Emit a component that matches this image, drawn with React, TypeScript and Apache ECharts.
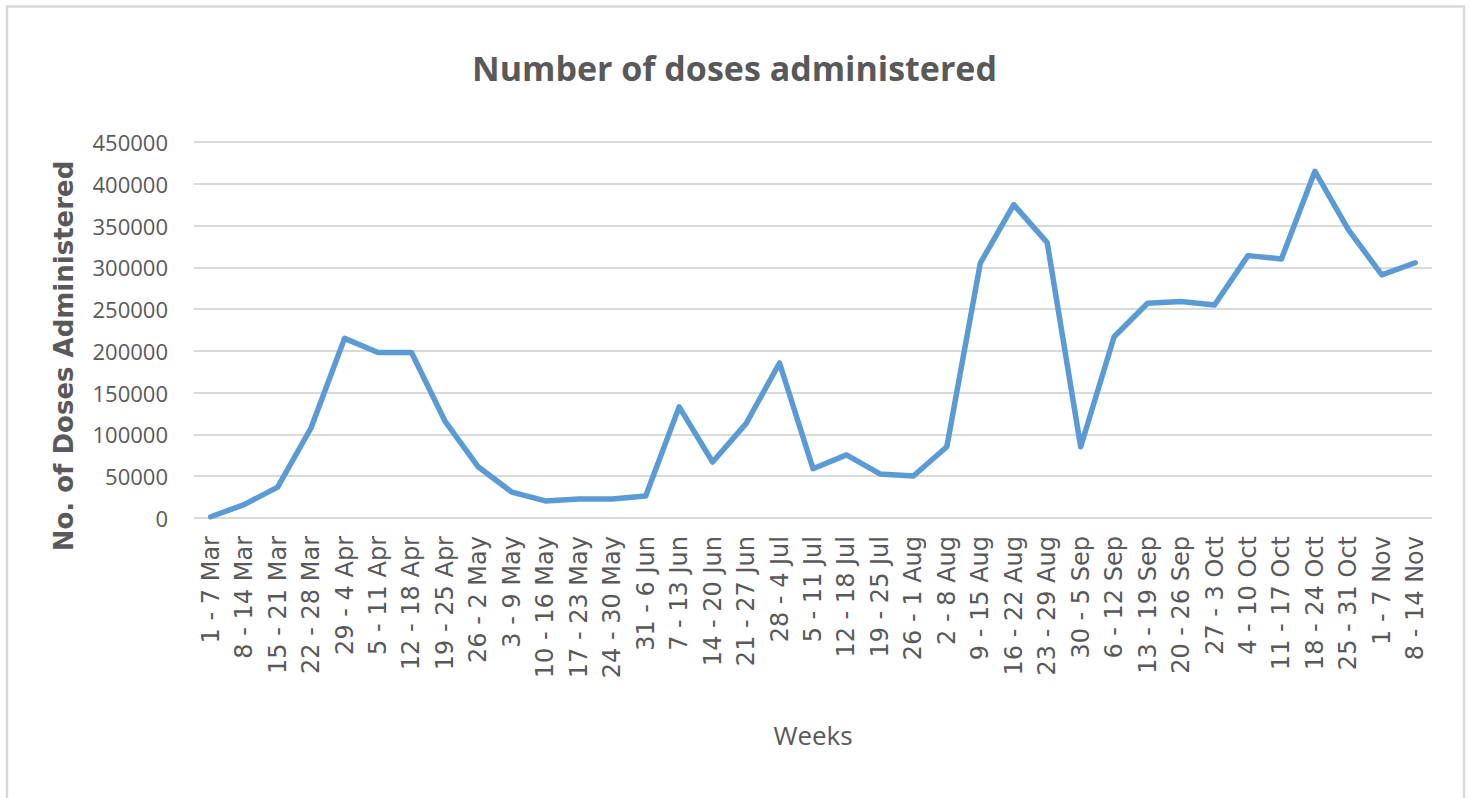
import React, { useEffect, useRef } from "react";
import * as echarts from "echarts";

const weeks: string[] = [
  "1 - 7 Mar", "8 - 14 Mar", "15 - 21 Mar", "22 - 28 Mar", "29 - 4 Apr", "5 - 11 Apr",
  "12 - 18 Apr", "19 - 25 Apr", "26 - 2 May", "3 - 9 May", "10 - 16 May", "17 - 23 May",
  "24 - 30 May", "31 - 6 Jun", "7 - 13 Jun", "14 - 20 Jun", "21 - 27 Jun", "28 - 4 Jul",
  "5 - 11 Jul", "12 - 18 Jul", "19 - 25 Jul", "26 - 1 Aug", "2 - 8 Aug", "9 - 15 Aug",
  "16 - 22 Aug", "23 - 29 Aug", "30 - 5 Sep", "6 - 12 Sep", "13 - 19 Sep", "20 - 26 Sep",
  "27 - 3 Oct", "4 - 10 Oct", "11 - 17 Oct", "18 - 24 Oct", "25 - 31 Oct", "1 - 7 Nov",
  "8 - 14 Nov",
];

const doses: number[] = [
  1500, 16000, 37000, 108000, 215000, 198000,
  198000, 116000, 61000, 31000, 20400, 22600,
  22800, 26400, 133000, 67000, 113000, 185500,
  59000, 75500, 52800, 50200, 85300, 305000,
  375000, 329500, 85300, 217000, 257000, 259000,
  255000, 314000, 310000, 415000, 345000, 291000,
  305500,
];

const title = "Number of doses administered";
const yTitle = "No. of Doses Administered";
const xTitle = "Weeks";
const yMin = 0;
const yMax = 450000;
const yStep = 50000;

export default function App() {
  const ref = useRef<HTMLDivElement>(null);
  useEffect(() => {
    document.body.style.margin = "0";
    if (!ref.current) return;
    const chart = echarts.init(ref.current, null, { renderer: "svg" });
    const grey = "#595959";
    chart.setOption({
      animation: false,
      backgroundColor: "#ffffff",
      title: {
        text: title,
        left: "center",
        top: 46,
        textStyle: {
          fontFamily: "Open Sans",
          fontWeight: "bold",
          fontSize: 34,
          color: grey,
        },
      },
      graphic: [
        {
          type: "rect",
          shape: { x: 7, y: 6.5, width: 1457, height: 820 },
          style: { fill: "none", stroke: "#D9D9D9", lineWidth: 2.5 },
          silent: true,
        },
        {
          type: "text",
          x: 64,
          y: 356,
          rotation: Math.PI / 2,
          style: {
            text: yTitle,
            fontFamily: "DejaVu Sans",
            fontWeight: "bold",
            fontSize: 26,
            fill: grey,
            align: "center",
            verticalAlign: "middle",
          },
        },
      ],
      grid: {
        left: 194,
        right: 37,
        top: 142,
        bottom: 280,
        containLabel: false,
        outerBoundsMode: "none",
      },
      xAxis: {
        type: "category",
        data: weeks,
        boundaryGap: true,
        axisLine: { show: false },
        axisTick: { show: false },
        axisLabel: {
          rotate: 90,
          interval: 0,
          margin: 18,
          fontFamily: "DejaVu Sans",
          fontSize: 24,
          color: grey,
        },
        name: xTitle,
        nameLocation: "middle",
        nameGap: 204,
        nameMoveOverlap: false,
        nameTextStyle: {
          fontFamily: "Open Sans",
          fontSize: 26,
          color: grey,
        },
      },
      yAxis: {
        type: "value",
        min: yMin,
        max: yMax,
        interval: yStep,
        axisLine: { show: false },
        axisTick: { show: false },
        axisLabel: {
          margin: 26,
          fontFamily: "Open Sans",
          fontSize: 22,
          color: grey,
          formatter: (v: number) => String(v),
        },
        splitLine: { lineStyle: { color: "#D9D9D9", width: 2 } },
      },
      series: [
        {
          type: "line",
          data: doses,
          symbol: "none",
          lineStyle: { color: "#5B9BD5", width: 5.5, join: "round", cap: "round" },
          itemStyle: { color: "#5B9BD5" },
        },
      ],
    });
    return () => chart.dispose();
  }, []);
  return <div ref={ref} style={{ width: 1469, height: 798 }} />;
}
